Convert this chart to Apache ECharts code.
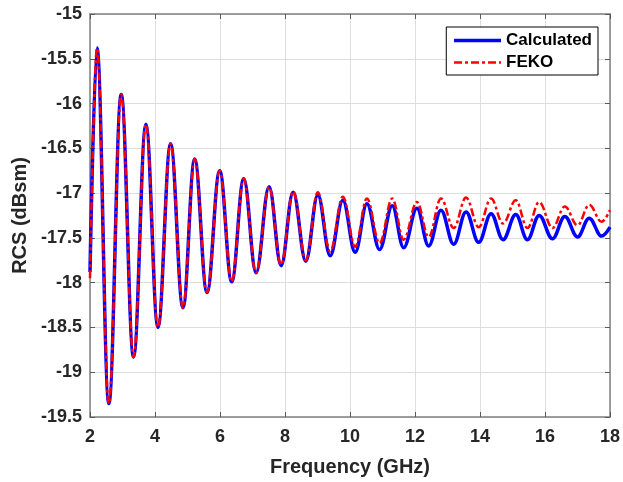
<!DOCTYPE html>
<html>
<head>
<meta charset="utf-8">
<script src="https://cdn.jsdelivr.net/npm/echarts@6/dist/echarts.min.js"></script>
<style>
html,body{margin:0;padding:0;background:#fff;}
#chart{width:623px;height:482px;}
</style>
</head>
<body>
<div id="chart"></div>
<script>
// Calculated curve: extrema (GHz, dBsm)
var calcFreq = [2.00, 2.215, 2.58, 2.96, 3.34, 3.72, 4.09, 4.48, 4.86, 5.22, 5.60, 5.99, 6.36, 6.73, 7.11, 7.51, 7.88, 8.25, 8.64, 9.01, 9.39, 9.78, 10.16, 10.52, 10.91, 11.30, 11.65, 12.06, 12.42, 12.80, 13.19, 13.57, 13.96, 14.34, 14.71, 15.10, 15.46, 15.82, 16.23, 16.61, 17.00, 17.36, 17.74, 18.00];
var calcRcs  = [-17.88, -15.38, -19.35, -15.90, -18.83, -16.23, -18.50, -16.45, -18.28, -16.62, -18.11, -16.75, -17.99, -16.84, -17.89, -16.93, -17.81, -16.99, -17.76, -17.02, -17.70, -17.08, -17.66, -17.12, -17.63, -17.14, -17.61, -17.17, -17.59, -17.19, -17.57, -17.21, -17.55, -17.23, -17.52, -17.24, -17.52, -17.25, -17.51, -17.26, -17.49, -17.28, -17.48, -17.38];
// FEKO curve
var fekoFreq = [2.00, 2.215, 2.58, 2.96, 3.34, 3.72, 4.09, 4.48, 4.86, 5.22, 5.60, 5.99, 6.36, 6.73, 7.11, 7.51, 7.88, 8.25, 8.64, 9.01, 9.39, 9.78, 10.16, 10.52, 10.91, 11.30, 11.65, 12.06, 12.42, 12.80, 13.19, 13.57, 13.96, 14.34, 14.71, 15.10, 15.46, 15.82, 16.23, 16.61, 17.00, 17.36, 17.74, 18.00];
var fekoRcs  = [-17.95, -15.38, -19.35, -15.90, -18.83, -16.23, -18.50, -16.45, -18.28, -16.62, -18.11, -16.75, -17.99, -16.84, -17.89, -16.93, -17.80, -16.98, -17.75, -16.99, -17.65, -17.04, -17.60, -17.06, -17.56, -17.06, -17.52, -17.10, -17.49, -17.06, -17.39, -17.05, -17.38, -17.06, -17.34, -17.08, -17.39, -17.10, -17.39, -17.15, -17.36, -17.13, -17.32, -17.19];

var xTicks = [2, 4, 6, 8, 10, 12, 14, 16, 18];
var yTicks = [-19.5, -19, -18.5, -18, -17.5, -17, -16.5, -16, -15.5, -15];
var seriesNames = ['Calculated', 'FEKO'];

function pairs(xs, ys){ return xs.map(function(x,i){ return [x, ys[i]]; }); }

var chart = echarts.init(document.getElementById('chart'), null, {renderer:'canvas'});
var axisCol = '#808080';
var textCol = '#262626';
var font = 'Liberation Sans, Arial, sans-serif';
var baseX = {
  type:'value', min:xTicks[0], max:xTicks[xTicks.length-1], interval:2,
  axisLine:{show:true, onZero:false, lineStyle:{color:axisCol, width:1.5}},
  axisTick:{show:true, inside:true, length:5, lineStyle:{color:'#5a5a5a'}},
  splitLine:{show:false}
};
var baseY = {
  type:'value', min:yTicks[0], max:yTicks[yTicks.length-1], interval:0.5,
  axisLine:{show:true, onZero:false, lineStyle:{color:axisCol, width:1.5}},
  axisTick:{show:true, inside:true, length:5, lineStyle:{color:'#5a5a5a'}},
  splitLine:{show:false}
};
var option = {
  animation:false,
  backgroundColor:'#ffffff',
  grid:{left:90, right:12, top:14, bottom:62, containLabel:false},
  legend:{
    data:[
      {name:seriesNames[0], lineStyle:{width:3.5, color:'#0000ff'}},
      {name:seriesNames[1], lineStyle:{width:2.5, color:'#ff0000', type:[8,3,3,3]}}
    ],
    orient:'vertical', right:25, top:27,
    backgroundColor:'#ffffff', borderColor:'#000000', borderWidth:1,
    padding:[5,6,4,6], itemWidth:47, itemHeight:14, itemGap:5,
    itemStyle:{opacity:0},
    textStyle:{fontFamily:font, fontSize:17, fontWeight:'bold', color:'#000'}
  },
  xAxis:[
    Object.assign({}, baseX, {
      position:'bottom', name:'Frequency (GHz)', nameLocation:'middle', nameGap:40,
      nameTextStyle:{fontFamily:font, fontSize:20, fontWeight:'bold', color:textCol},
      axisLabel:{show:true, margin:11, fontFamily:font, fontSize:18, fontWeight:'bold', color:textCol},
      splitLine:{show:true, lineStyle:{color:'#dedede', width:1}}
    }),
    Object.assign({}, baseX, {position:'top', axisLabel:{show:false}})
  ],
  yAxis:[
    Object.assign({}, baseY, {
      position:'left', name:'RCS (dBsm)', nameLocation:'middle', nameGap:47,
      nameTextStyle:{fontFamily:font, fontSize:20, fontWeight:'bold', color:textCol},
      axisLabel:{show:true, margin:8, fontFamily:font, fontSize:18, fontWeight:'bold', color:textCol,
        formatter:function(v){ return String(v); }},
      splitLine:{show:true, lineStyle:{color:'#dedede', width:1}}
    }),
    Object.assign({}, baseY, {position:'right', axisLabel:{show:false}})
  ],
  series:[
    {
      name:seriesNames[0], type:'line', data:pairs(calcFreq, calcRcs),
      xAxisIndex:0, yAxisIndex:0,
      smooth:0.38, smoothMonotone:'x', symbol:'none', showSymbol:false,
      lineStyle:{color:'#0000ff', width:3.5}, itemStyle:{color:'#0000ff'}, z:2
    },
    {
      name:seriesNames[1], type:'line', data:pairs(fekoFreq, fekoRcs),
      xAxisIndex:0, yAxisIndex:0,
      smooth:0.38, smoothMonotone:'x', symbol:'none', showSymbol:false,
      lineStyle:{color:'#ff0000', width:2.5, type:[8,3,3,3]}, itemStyle:{color:'#ff0000'}, z:3
    }
  ]
};
chart.setOption(option);
</script>
</body>
</html>
